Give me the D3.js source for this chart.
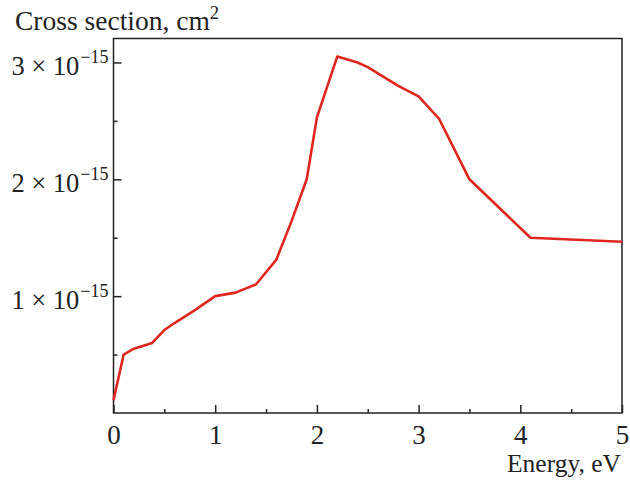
<!DOCTYPE html>
<html>
<head>
<meta charset="utf-8">
<script src="https://cdn.jsdelivr.net/npm/d3@7"></script>
<style>
  html, body { margin: 0; padding: 0; background: #fff; }
  svg { display: block; }
  text { font-family: "Liberation Serif", "DejaVu Serif", serif; fill: #222; }
</style>
</head>
<body>
<script>
// Electron energy, eV
const energy = [0, 0.1, 0.2, 0.38, 0.5, 0.6, 0.8, 1.0, 1.2, 1.4, 1.6, 1.75, 1.9, 2.0, 2.2, 2.4, 2.5, 2.8, 3.0, 3.2, 3.5, 4.1, 5.0];
// Cross section, in units of 1e-15 cm^2
const crossSection = [0.11, 0.50, 0.55, 0.60, 0.71, 0.77, 0.88, 1.0, 1.03, 1.10, 1.31, 1.64, 2.0, 2.53, 3.05, 3.0, 2.96, 2.80, 2.71, 2.52, 2.0, 1.50, 1.465];

const xMajorTicks = [0, 1, 2, 3, 4, 5];
const xMinorTicks = [0.5, 1.5, 2.5, 3.5, 4.5];
const yMajorTicks = [1, 2, 3];
const yMinorTicks = [0.5, 1.5, 2.5];
const yExponent = "\u221215";

const W = 630, H = 483;
const plotLeft = 113.5, plotRight = 622, plotTop = 38.5, plotBottom = 413;
const fontMain = 26.5, fontSup = 18;

const svg = d3.select("body").append("svg").attr("width", W).attr("height", H);

const x = d3.scaleLinear().domain([0, 5]).range([plotLeft, plotRight]);
const y = d3.scaleLinear().domain([0, 3.205]).range([plotBottom, plotTop]);

const axisColor = "#222";

// Plot frame
svg.append("rect")
  .attr("x", plotLeft).attr("y", plotTop)
  .attr("width", plotRight - plotLeft).attr("height", plotBottom - plotTop)
  .attr("fill", "none").attr("stroke", axisColor).attr("stroke-width", 1.5);

// Bottom axis: major ticks with labels, minor ticks without
const gx = svg.append("g").attr("transform", `translate(0,${plotBottom})`);
gx.call(d3.axisBottom(x).tickValues(xMajorTicks).tickSizeInner(-8).tickSizeOuter(0).tickFormat(d3.format("d")));
const gxm = svg.append("g").attr("transform", `translate(0,${plotBottom})`);
gxm.call(d3.axisBottom(x).tickValues(xMinorTicks).tickSizeInner(-4).tickSizeOuter(0).tickFormat(""));

// Left axis
const gy = svg.append("g").attr("transform", `translate(${plotLeft},0)`);
gy.call(d3.axisLeft(y).tickValues(yMajorTicks).tickSizeInner(-8).tickSizeOuter(0).tickFormat(""));
const gym = svg.append("g").attr("transform", `translate(${plotLeft},0)`);
gym.call(d3.axisLeft(y).tickValues(yMinorTicks).tickSizeInner(-4).tickSizeOuter(0).tickFormat(""));

[gx, gxm, gy, gym].forEach(g => {
  g.select(".domain").remove();
  g.selectAll(".tick line").attr("stroke", axisColor).attr("stroke-width", 1.5);
});

gx.selectAll(".tick text")
  .attr("font-size", 27).attr("fill", "#222")
  .attr("font-family", "Liberation Serif, serif")
  .attr("y", 31).attr("dy", null);

// y tick labels in "n × 10^-15" form
gy.selectAll(".tick text").each(function(d) {
  const t = d3.select(this)
    .attr("font-size", fontMain).attr("fill", "#222")
    .attr("font-family", "Liberation Serif, serif")
    .attr("x", -5).attr("y", 12).attr("dy", null)
    .attr("text-anchor", "end");
  t.text(null);
  t.append("tspan").text(`${d} \u00d7 10`);
  t.append("tspan").attr("font-size", fontSup).attr("dx", 1).attr("dy", -12).text(yExponent);
});

// Axis titles
svg.append("text")
  .attr("x", 15).attr("y", 30)
  .attr("font-size", 27.5)
  .call(t => {
    t.append("tspan").text("Cross section, cm");
    t.append("tspan").attr("font-size", 18.5).attr("dy", -11).text("2");
  });

svg.append("text")
  .attr("x", 621).attr("y", 472)
  .attr("text-anchor", "end")
  .attr("font-size", 25.5)
  .text("Energy, eV");

// Cross-section curve
const pts = energy.map((e, i) => [e, crossSection[i]]);
svg.append("path")
  .datum(pts)
  .attr("fill", "none")
  .attr("stroke", "#e0271f")
  .attr("stroke-width", 2.6)
  .attr("stroke-linejoin", "round")
  .attr("d", d3.line().x(d => x(d[0])).y(d => y(d[1])));
</script>
</body>
</html>
